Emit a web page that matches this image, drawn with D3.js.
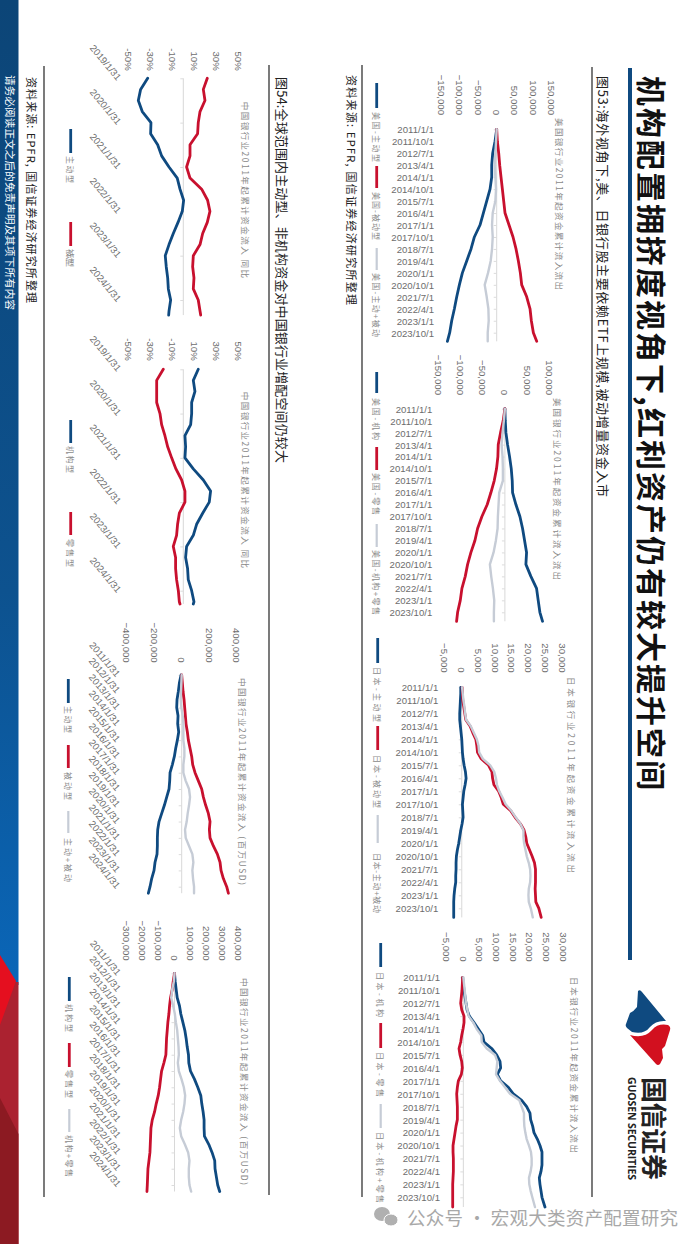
<!DOCTYPE html>
<html><head><meta charset="utf-8">
<script src="https://cdn.jsdelivr.net/npm/d3@7"></script>
<style>
html,body{margin:0;padding:0;background:#fff}
svg{display:block}
text{font-family:"Noto Sans CJK SC","Liberation Sans",sans-serif}
.num text{font-family:"Liberation Sans",Arial,sans-serif}
</style></head><body>
<div id="c"></div>
<script>
// ---------- categories ----------
const datesQ = ["2011/1/1","2011/10/1","2012/7/1","2013/4/1","2014/1/1","2014/10/1","2015/7/1","2016/4/1","2017/1/1","2017/10/1","2018/7/1","2019/4/1","2020/1/1","2020/10/1","2021/7/1","2022/4/1","2023/1/1","2023/10/1"];
const datesY = ["2011/1/31","2012/1/31","2013/1/31","2014/1/31","2015/1/31","2016/1/31","2017/1/31","2018/1/31","2019/1/31","2020/1/31","2021/1/31","2022/1/31","2023/1/31","2024/1/31"];
const datesYoY = ["2019/1/31","2020/1/31","2021/1/31","2022/1/31","2023/1/31","2024/1/31"];

// ---------- 美国 主动/被动 ----------
const usActive = [0,-4500,-10900,-13600,-13600,-18200,-27300,-36400,-45500,-60900,-70000,-81800,-93600,-101800,-109000,-115400,-122700,-128200,-134500];
const usPassive = [0,1800,5500,8200,11800,15500,19100,22700,33600,44500,52700,59100,64500,68200,81800,90900,94500,100000,109100];
const usActivePassive = [0,-1800,-3600,-5500,-3600,-1800,-3600,-10900,-12700,-10900,-12700,-16400,-23600,-32700,-27300,-22700,-21800,-24500,-24500];
// ---------- 美国 机构/零售 ----------
const usInst = [0,800,2300,6000,10500,14300,16500,17300,24800,33800,39800,44300,48800,47300,58500,71300,75000,78800,84800];
const usRetail = [0,-3800,-9800,-15000,-15800,-18800,-24000,-31500,-39800,-51800,-61500,-67500,-76500,-84000,-89300,-96800,-100500,-106500,-108800];
const usInstRetail = [0,-2300,-5300,-7500,-5300,-4500,-4500,-12800,-14300,-15800,-16500,-20300,-25500,-33800,-30800,-27000,-24000,-24800,-24800];
// ---------- 日本 主动/被动 ----------
const jpActive = [-300,-300,-400,-500,-600,-600,-400,-200,0,100,200,400,700,1100,1300,1000,600,400,200,300,400,100,-300,-600,-900,-1300,-1600,-1700,-1700,-1800,-1800,-2100,-2300,-2400,-2400,-2400];
const jpPassive = [100,200,300,600,900,1200,2500,3300,4200,4500,4700,5800,8000,9000,9200,9600,11000,11800,12400,14600,15900,17500,18600,19100,19400,20200,21000,21700,22000,22000,22000,21900,22000,22100,23000,23700];
const jpActivePassive = [100,300,500,800,1000,1300,2700,3600,4500,5000,5200,6300,8500,9700,10200,10500,11200,12200,13100,14800,16100,17500,18400,18400,18600,19000,19400,20000,20400,20500,20400,20000,19900,20000,20600,21200];
// ---------- 日本 机构/零售 ----------
const jpInst = [-200,0,200,500,800,1100,1800,3200,4500,5800,6200,8500,10000,11000,11200,10200,11200,13500,15000,17500,19000,20000,20200,20800,21200,22200,23000,23600,23600,23600,23300,22800,23000,23300,23600,24500];
const jpRetail = [-200,-300,-400,-600,-800,-500,200,200,-100,-500,-800,-1300,-1000,-500,-300,-600,-1500,-1800,-2000,-1900,-1800,-1800,-1800,-2200,-2500,-2800,-3100,-3100,-3000,-3000,-3000,-3100,-3200,-3200,-3200,-3200];
const jpInstRetail = [0,200,400,600,800,1200,1600,3000,4000,5400,5500,7000,9500,10200,10000,9800,11000,12500,14000,16800,17500,18200,18200,18300,18600,19000,19700,20300,20500,20500,20200,19700,19800,20200,20700,21500];
// ---------- 中国 同比 ----------
const yoyActive = [-32.4,-38.8,-40.9,-37.3,-29.4,-29.7,-23.3,-19.7,-13,-5.5,-3,0.3,-0.9,-4.8,-9.1,-13,-16.4,-15.5,-14.2,-13.6,-11.5,-13,-13.3];
const yoyPassive = [21.8,18.2,19.7,15.2,13.6,13,6.1,6.1,3,6.1,16.7,22.1,24.2,21.8,17.6,15.2,9.1,8.5,9.7,9.1,13.6,15.2,15.8];
const yoyInst = [13.6,9.1,10.6,7.6,7.6,6.7,1.5,2.1,1.5,9.1,18.2,24.8,23.6,17.6,12.1,9.1,3,2.1,3.9,4.5,7.6,9.7,9.1];
const yoyRetail = [-18.2,-24.2,-24.2,-24.2,-21.2,-19.7,-16.7,-14.2,-10.6,-6.7,-1.5,1.5,1.5,-3.6,-5.2,-6.1,-9.1,-7,-7,-6.1,-4.5,-3.6,-3];
// ---------- 中国 累计 主动/被动 ----------
const cnActive = [-4800,-17000,-24200,-33900,-36400,-26700,-29100,-21800,-31500,-43600,-53300,-67900,-84800,-87300,-92100,-109100,-126000,-145400,-164800,-174500,-177000,-177000,-179400,-193900,-201200,-218200,-230300,-242400];
const cnPassive = [0,4800,9700,17000,21800,26700,31500,41200,48500,60600,72700,80000,97000,121200,145400,157600,174500,193900,206000,201200,206000,230300,259400,278800,286000,303000,327200,339400];
const cnActivePassive = [0,-2400,-4800,-7300,-2400,7300,12100,12100,12100,19400,19400,12100,12100,29100,53300,60600,53300,43600,36400,24200,29100,53300,77600,84800,77600,82400,89700,89700];
// ---------- 中国 累计 机构/零售 ----------
const cnInst = [0,4200,10400,16700,31200,39600,52100,64600,72900,79200,87500,89600,100000,125000,145800,164600,170800,179200,185400,185400,187500,214600,235400,252100,254100,262500,270800,283300];
const cnRetail = [0,-8300,-14600,-25000,-31200,-35400,-41700,-45800,-50000,-52100,-54200,-66700,-81200,-87500,-93700,-102100,-114600,-125000,-139600,-147900,-150000,-152100,-154200,-160400,-166700,-168700,-170800,-172900];
const cnInstRetail = [0,-4200,-14600,-20800,-8300,2100,8300,16700,20800,25000,27100,20800,27100,43700,58300,66700,62500,54200,41700,33300,41700,64600,85400,93700,89600,89600,93700,104200];

// ---------- page text ----------
const mainTitle = "机构配置拥挤度视角下,红利资产仍有较大提升空间";
const fig53 = "图53:海外视角下,美、日银行股主要依赖ETF上规模,被动增量资金入市";
const fig54 = "图54:全球范围内主动型、非机构资金对中国银行业增配空间仍较大";
const source = "资料来源: EPFR, 国信证券经济研究所整理";
const disclaimer = "请务必阅读正文之后的免责声明及其项下所有内容";
const watermark = "公众号 · 宏观大类资产配置研究";

const NAVY="#0f4a80", RED="#c8102e", GREY="#c6ccd6";

const svg = d3.select("#c").append("svg").attr("width",700).attr("height",1244);

// left band
const defs = svg.append("defs");
const grad = defs.append("linearGradient").attr("id","band").attr("x1",0).attr("x2",0).attr("y1",0).attr("y2",1);
grad.append("stop").attr("offset","0").attr("stop-color","#0c4577");
grad.append("stop").attr("offset","0.6").attr("stop-color","#0d528f");
grad.append("stop").attr("offset","1").attr("stop-color","#0a66b8");
svg.append("rect").attr("x",0).attr("y",0).attr("width",18.5).attr("height",985).attr("fill","url(#band)");
svg.append("polygon").attr("points","0,982 18.5,982 18.5,1244 0,1244").attr("fill","#ab2230");
svg.append("polygon").attr("points","0,955 16,981 0,1025").attr("fill","#e50f1f");
svg.append("polygon").attr("points","0,1098 18.5,1134 18.5,1244 0,1244").attr("fill","#8c1a22");

// slide-frame group: landscape page turned a quarter clockwise
const page = svg.append("g").attr("transform","translate(700,0) rotate(90)");
const U = y => y, V = x => 700 - x;

function label(g, imgX, imgY, str, o={}) {
  const t = g.append("text")
    .attr("x",U(imgY)).attr("y",V(imgX))
    .attr("dominant-baseline","central")
    .attr("font-size",o.size||12)
    .attr("fill",o.fill||"#222")
    .attr("font-weight",o.weight||400)
    .attr("text-anchor",o.anchor||"start")
    .text(str);
  if(o.len) t.attr("textLength",o.len).attr("lengthAdjust",o.adj||"spacing");
  if(o.family) t.style("font-family",o.family);
  return t;
}
function rule(imgX, y0, y1, w=1.4, c="#444") {
  page.append("line").attr("x1",U(y0)).attr("x2",U(y1)).attr("y1",V(imgX)).attr("y2",V(imgX))
    .attr("stroke",c).attr("stroke-width",w);
}

// header
label(page,653,76,mainTitle,{size:30,weight:700,fill:"#111",len:714});
rule(630,68,960,4,NAVY);
label(page,603,76,fig53,{size:13,fill:"#222",len:421});
rule(592,67,1197,1.3,"#333");
rule(362,65,1197,1.3,"#333");
label(page,352,75,source,{size:11,len:230});
label(page,282,77,fig54,{size:13,fill:"#222",len:386});
rule(269,65,1195,1.3,"#333");
rule(44,66,1197,1.3,"#333");
label(page,32,77,source,{size:11,len:226});
label(page,10,75,disclaimer,{size:10.5,fill:"#fff",len:235});

// charts
function drawChart(c){
  const g = page.append("g");
  const n = c.dates.length;
  const x = d3.scaleLinear().domain([0,n-1]).range([c.uFirst,c.uLast]);
  const y = d3.scaleLinear().domain(c.domain).range([V(c.xLow),V(c.xHigh)]);
  const idx = (i,len)=> i===len-1 ? c.endIdx : i*c.step;

  // value axis
  const ya = g.append("g").attr("class","num").attr("transform",`translate(${c.uVal},0)`)
    .call(d3.axisLeft(y).tickValues(c.ticks).tickSize(0).tickPadding(0).tickFormat(c.fmt));
  ya.select(".domain").remove();
  ya.selectAll("text").attr("font-size",9.6).attr("fill","#6d6d6d").attr("dy","0.32em");

  // zero line with small ticks
  const za = g.append("g").attr("transform",`translate(0,${y(0)})`)
    .call(d3.axisBottom(x).tickValues(d3.range(n)).tickSize(3).tickFormat(""));
  za.select(".domain").attr("d",`M${x(0)},0H${x(c.endIdx)}`).attr("stroke","#d8d8d8").attr("stroke-width",1);
  za.selectAll("line").attr("stroke","#dcdcdc");

  // date axis
  const da = g.append("g").attr("class","num").attr("transform",`translate(0,${V(c.xDate)})`)
    .call(d3.axisBottom(x).tickValues(d3.range(n)).tickSize(0).tickPadding(0).tickFormat(i=>c.dates[i]));
  da.select(".domain").remove();
  da.selectAll("text").attr("font-size",c.dateSize||9.6).attr("fill","#6d6d6d")
    .attr("text-anchor","end").attr("x",0).attr("y",0).attr("dy","0.35em")
    .attr("transform",`rotate(${c.rot})`);

  // title
  label(g,c.titleX,c.titleY[0],c.title,{size:8.5,fill:"#8a8a8a",len:c.titleY[1]-c.titleY[0]});

  // lines
  const line = d3.line().x(d=>x(d[0])).y(d=>y(d[1])).curve(d3.curveLinear);
  c.series.forEach(s=>{
    const pts = s.values.map((v,i,a)=>[idx(i,a.length),v]);
    g.append("path").attr("d",line(pts)).attr("fill","none").attr("stroke",s.color)
      .attr("stroke-width",s.color===GREY?2.4:2.8).attr("stroke-linejoin","round").attr("stroke-linecap","round");
    const L = s.leg;
    g.append("line").attr("x1",U(L[0])).attr("x2",U(L[1])).attr("y1",V(c.legX)).attr("y2",V(c.legX))
      .attr("stroke",s.color).attr("stroke-width",s.color===GREY?2.2:2.8);
    label(g,c.legX,L[2],s.name,{size:8,fill:"#8a8a8a",len:L[3]-L[2]});
  });
}

const fmtThousands = d3.format(",");
const fmtPct = d=>d+"%";
const usTicks1=[-150000,-100000,-50000,0,50000,100000,150000];
const usTicks2=[-150000,-100000,-50000,0,50000,100000];
const jpTicks=[-5000,0,5000,10000,15000,20000,25000,30000];
const pctTicks=[-50,-30,-10,10,30,50];
const cnTicks1=[-400000,-200000,0,200000,400000];
const cnTicks2=[-300000,-200000,-100000,0,100000,200000,300000,400000];

const charts = [
 {dates:datesQ,step:1,endIdx:17.72,uFirst:129.3,uLast:332.7,domain:[-150000,150000],xLow:441.7,xHigh:551.7,ticks:usTicks1,fmt:fmtThousands,uVal:115,xDate:434,rot:-90,
  title:"美国银行业2011年起资金累计流入流出",titleX:560,titleY:[118,290],legX:376.7,
  series:[{name:"美国-主动型",values:usActive,color:NAVY,leg:[83,108,112,162]},{name:"美国-被动型",values:usPassive,color:RED,leg:[166,188,192,240]},{name:"美国-主动+被动",values:usActivePassive,color:GREY,leg:[248,270,273,337]}]},
 {dates:datesQ,step:1,endIdx:17.75,uFirst:408.7,uLast:612.3,domain:[-150000,100000],xLow:438.3,xHigh:549.3,ticks:usTicks2,fmt:fmtThousands,uVal:395,xDate:432.3,rot:-90,
  title:"美国银行业2011年起资金累计流入流出",titleX:558,titleY:[398,580],legX:376.7,
  series:[{name:"美国-机构",values:usInst,color:NAVY,leg:[372,393,398,440]},{name:"美国-零售",values:usRetail,color:RED,leg:[447,470,473,515]},{name:"美国-机构+零售",values:usInstRetail,color:GREY,leg:[524,547,550,615]}]},
 {dates:datesQ,step:.5,endIdx:17.7,uFirst:687.3,uLast:908.3,domain:[-5000,30000],xLow:445,xHigh:562.3,ticks:jpTicks,fmt:fmtThousands,uVal:672.7,xDate:438.3,rot:-90,
  title:"日本银行业2011年起资金累计流入流出",titleX:571.7,titleY:[677,873],legX:377.7,
  series:[{name:"日本-主动型",values:jpActive,color:NAVY,leg:[638,663,667,722]},{name:"日本-被动型",values:jpPassive,color:RED,leg:[726,750,755,808]},{name:"日本-主动+被动",values:jpActivePassive,color:GREY,leg:[815,843,853,913]}]},
 {dates:datesQ,step:.5,endIdx:17.75,uFirst:977.3,uLast:1197.3,domain:[-5000,30000],xLow:446.7,xHigh:563.3,ticks:jpTicks,fmt:fmtThousands,uVal:961.7,xDate:440,rot:-90,
  title:"日本银行业2011年起资金累计流入流出",titleX:575,titleY:[977,1153],legX:380.7,
  series:[{name:"日本-机构",values:jpInst,color:NAVY,leg:[943,967,972,1017]},{name:"日本-零售",values:jpRetail,color:RED,leg:[1023,1048,1052,1097]},{name:"日本-机构+零售",values:jpInstRetail,color:GREY,leg:[1104,1128,1132,1203]}]},
 {dates:datesYoY,step:.25,endIdx:5.34,uFirst:78.3,uLast:300,domain:[-50,50],xLow:128.3,xHigh:238.3,ticks:pctTicks,fmt:fmtPct,uVal:70.7,xDate:119.3,rot:-40,
  title:"中国银行业2011年起累计资金流入 同比",titleX:246,titleY:[101.7,278],legX:70.7,
  series:[{name:"主动型",values:yoyActive,color:NAVY,leg:[129,153,156,183]},{name:"被动型",values:yoyPassive,color:RED,leg:[222,246,249,267]}]},
 {dates:datesYoY,step:.25,endIdx:5.3,uFirst:369.3,uLast:590.7,domain:[-50,50],xLow:128.3,xHigh:238.3,ticks:pctTicks,fmt:fmtPct,uVal:360.7,xDate:119.3,rot:-40,
  title:"中国银行业2011年起累计资金流入 同比",titleX:246,titleY:[391.7,568],legX:70.7,
  series:[{name:"机构型",values:yoyInst,color:NAVY,leg:[420,443,446,473]},{name:"零售型",values:yoyRetail,color:RED,leg:[512,535,539,567]}]},
 {dates:datesY,step:.5,endIdx:13.4,uFirst:675,uLast:886.7,domain:[-400000,400000],xLow:126.7,xHigh:236.7,ticks:cnTicks1,fmt:fmtThousands,uVal:662.7,xDate:118.3,rot:-40,
  title:"中国银行业2011年起累计资金流入 (百万USD)",titleX:243,titleY:[678,885],legX:68.3,
  series:[{name:"主动型",values:cnActive,color:NAVY,leg:[679,703,706,733]},{name:"被动型",values:cnPassive,color:RED,leg:[745,768,772,800]},{name:"主动+被动",values:cnActivePassive,color:GREY,leg:[811,833,838,882]}]},
 {dates:datesY,step:.5,endIdx:13.4,uFirst:973.3,uLast:1185,domain:[-300000,400000],xLow:126.7,xHigh:238.3,ticks:cnTicks2,fmt:fmtThousands,uVal:960.7,xDate:119,rot:-40,
  title:"中国银行业2011年起累计资金流入 (百万USD)",titleX:245,titleY:[978,1185],legX:69.3,
  series:[{name:"机构型",values:cnInst,color:NAVY,leg:[977,1001,1004,1032]},{name:"零售型",values:cnRetail,color:RED,leg:[1043,1067,1070,1098]},{name:"机构+零售",values:cnInstRetail,color:GREY,leg:[1109,1132,1135,1177]}]}
];
charts.forEach(drawChart);

// logo (page coordinates)
const logo = svg.append("g");
logo.append("path").attr("fill","#0f4a80").attr("d","M638,991 Q640,989 642,992 L666,1021 Q656,1020 650,1027 Q644,1035 632,1032 L627,1028 Q625,1026 626,1024 L630,1013 Q634,1011 637,1007 Z");
logo.append("path").attr("fill","#d2101f").attr("d","M630,1035 Q644,1039 652,1030 Q658,1023 668,1025 Q671,1027 670,1030 L665,1046 L662,1049 L663,1058 L660,1064 Q658,1066 656,1064 Z");
label(page,655,1077,"国信证券",{size:26,weight:700,fill:"#222",len:103});
label(page,632,1077,"GUOSEN SECURITIES",{size:10.5,weight:700,fill:"#222",len:103,family:"Open Sans"});

// watermark
const wm = svg.append("g");
wm.append("ellipse").attr("cx",382).attr("cy",1214).attr("rx",8).attr("ry",7).attr("fill","#b0b0b0");
wm.append("ellipse").attr("cx",391).attr("cy",1220).attr("rx",7).attr("ry",6).attr("fill","#b0b0b0").attr("stroke","#fff");
wm.append("text").attr("x",407).attr("y",1217).attr("dominant-baseline","central")
  .attr("font-size",18.5).attr("fill","#a8a8a8").attr("textLength",271).text(watermark);
</script></body></html>
